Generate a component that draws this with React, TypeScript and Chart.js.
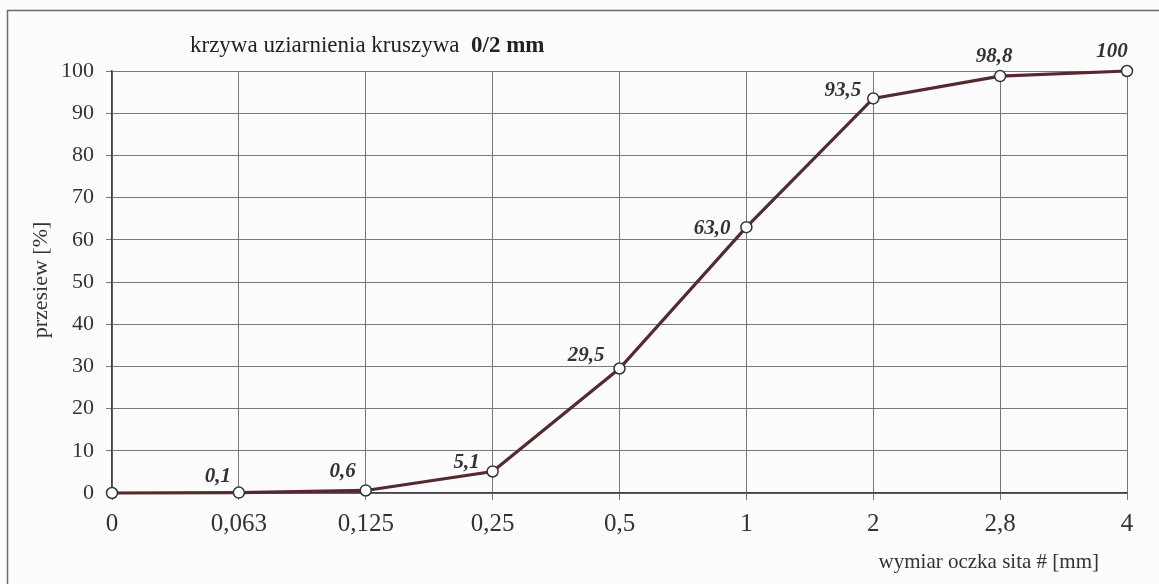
import React, { useEffect, useRef } from "react";
import { Chart, registerables } from "chart.js";

Chart.register(...registerables);

const sieveSizes = ["0", "0,063", "0,125", "0,25", "0,5", "1", "2", "2,8", "4"];
const passing = [0, 0.1, 0.6, 5.1, 29.5, 63.0, 93.5, 98.8, 100];
const pointLabels = ["", "0,1", "0,6", "5,1", "29,5", "63,0", "93,5", "98,8", "100"];
const yTicks = [0, 10, 20, 30, 40, 50, 60, 70, 80, 90, 100];

const titleNormal = "krzywa uziarnienia kruszywa  ";
const titleBold = "0/2 mm";
const yTitle = "przesiew [%]";
const xTitle = "wymiar oczka sita # [mm]";

const SERIF = "'Liberation Serif', 'DejaVu Serif', serif";

// label placement relative to each point: [dx, dy, align]
const labelPlacement: [number, number, CanvasTextAlign][] = [
  [0, 0, "right"],
  [-8, -11, "right"],
  [-10, -13, "right"],
  [-13, -3, "right"],
  [-15, -8, "right"],
  [-16, 7, "right"],
  [-12, -2, "right"],
  [-6, -14, "center"],
  [-15, -14, "center"],
];

const decorPlugin = {
  id: "decor",
  beforeDraw(chart: any) {
    const ctx = chart.ctx;
    ctx.save();
    ctx.fillStyle = "#fcfcfc";
    ctx.fillRect(0, 0, chart.width, chart.height);
    ctx.strokeStyle = "#6a6a6a";
    ctx.lineWidth = 1.5;
    ctx.strokeRect(7.5, 10.5, chart.width + 20, chart.height + 20);
    ctx.restore();
  },
  afterDraw(chart: any) {
    const ctx = chart.ctx;
    ctx.save();
    // title
    ctx.fillStyle = "#222";
    ctx.textBaseline = "alphabetic";
    ctx.textAlign = "left";
    ctx.font = `23px ${SERIF}`;
    const w = ctx.measureText(titleNormal).width;
    ctx.fillText(titleNormal, 190, 52);
    ctx.font = `bold 23px ${SERIF}`;
    ctx.fillText(titleBold, 190 + w, 52);
    // x title
    ctx.font = `21px ${SERIF}`;
    ctx.textAlign = "right";
    ctx.fillStyle = "#333";
    ctx.fillText(xTitle, 1099, 568);
    // y title
    ctx.font = `22px ${SERIF}`;
    ctx.translate(47, 280);
    ctx.rotate(-Math.PI / 2);
    ctx.textAlign = "center";
    ctx.fillText(yTitle, 0, 0);
    ctx.restore();

    // point labels
    const meta = chart.getDatasetMeta(0);
    ctx.save();
    ctx.font = `italic bold 21px ${SERIF}`;
    ctx.fillStyle = "#333";
    ctx.textBaseline = "alphabetic";
    meta.data.forEach((pt: any, i: number) => {
      const txt = pointLabels[i];
      if (!txt) return;
      const [dx, dy, align] = labelPlacement[i];
      ctx.textAlign = align;
      ctx.fillText(txt, pt.x + dx, pt.y + dy);
    });
    ctx.restore();
  },
};

export default function App() {
  const ref = useRef<HTMLCanvasElement | null>(null);
  useEffect(() => {
    if (!ref.current) return;
    const chart = new Chart(ref.current, {
      type: "line",
      data: {
        labels: sieveSizes,
        datasets: [
          {
            data: passing,
            borderColor: "#552a2e",
            borderWidth: 3.2,
            pointRadius: 5.5,
            pointBackgroundColor: "#ffffff",
            pointBorderColor: "#333333",
            pointBorderWidth: 1.5,
            tension: 0,
            clip: false as any,
          },
        ],
      },
      options: {
        responsive: false,
        animation: false,
        devicePixelRatio: 1,
        layout: { padding: { left: 0, right: 32, top: 71, bottom: 0 } },
        plugins: {
          legend: { display: false },
          title: { display: false },
          tooltip: { enabled: false },
        },
        scales: {
          x: {
            type: "category",
            offset: false,
            grid: {
              offset: false,
              color: "#777",
              lineWidth: 1,
              tickLength: 7,
              drawOnChartArea: true,
            },
            border: { color: "#444", width: 1.5 },
            ticks: {
              color: "#333",
              font: { family: SERIF, size: 25 },
              padding: 9,
              maxRotation: 0,
              autoSkip: false,
            },
            afterFit: (s: any) => {
              s.height = 91;
            },
          },
          y: {
            type: "linear",
            min: 0,
            max: 100,
            afterBuildTicks: (s: any) => {
              s.ticks = yTicks.map((v) => ({ value: v }));
            },
            grid: { color: "#777", lineWidth: 1, tickLength: 6 },
            border: { color: "#444", width: 1.5 },
            ticks: {
              color: "#333",
              font: { family: SERIF, size: 22 },
              padding: 12,
            },
            afterFit: (s: any) => {
              s.width = 112;
            },
          },
        },
      },
      plugins: [decorPlugin],
    });
    return () => chart.destroy();
  }, []);
  return (
    <div style={{ position: "fixed", left: 0, top: 0, width: 1159, height: 584 }}>
      <canvas ref={ref} width={1159} height={584} style={{ display: "block" }} />
    </div>
  );
}
